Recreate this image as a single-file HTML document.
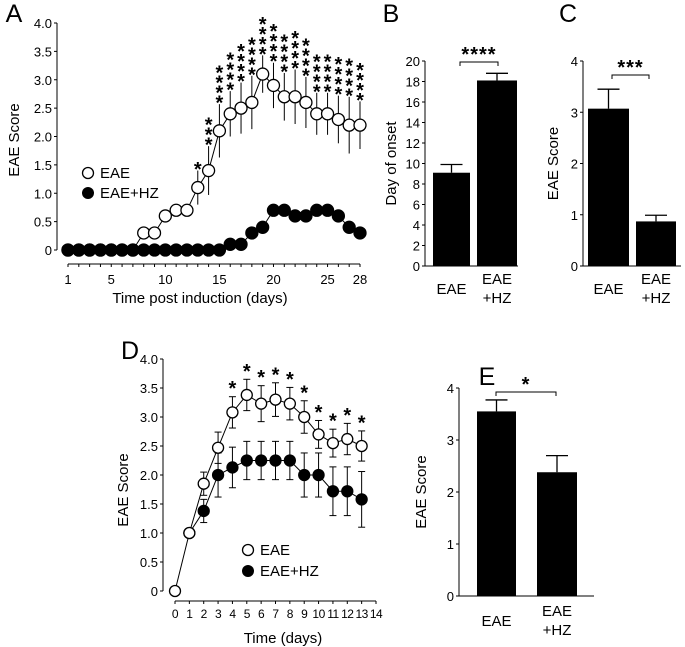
<!DOCTYPE html>
<html><head><meta charset="utf-8"><style>
body{margin:0;background:#fff}
svg{display:block;font-family:"Liberation Sans",Arial,sans-serif}
</style></head><body>
<svg id="fig" width="685" height="647" viewBox="0 0 685 647" xmlns="http://www.w3.org/2000/svg"></svg>
<script>
// ---- Panel A data ----
const daysA = [1,2,3,4,5,6,7,8,9,10,11,12,13,14,15,16,17,18,19,20,21,22,23,24,25,26,27,28];
const eaeA = [0,0,0,0,0,0,0,0.3,0.3,0.6,0.7,0.7,1.1,1.4,2.1,2.4,2.5,2.6,3.1,2.9,2.7,2.7,2.6,2.4,2.4,2.3,2.2,2.2];
const eaeErrA = [0,0,0,0,0,0,0,0.1,0.1,0.08,0.08,0.08,0.3,0.43,0.47,0.4,0.45,0.47,0.33,0.4,0.42,0.48,0.45,0.37,0.37,0.42,0.5,0.42];
const hzA = [0,0,0,0,0,0,0,0,0,0,0,0,0,0,0,0.1,0.1,0.3,0.4,0.7,0.7,0.6,0.6,0.7,0.7,0.6,0.4,0.3];
const hzErrA = [0,0,0,0,0,0,0,0,0,0,0,0,0,0,0,0.08,0.08,0.08,0.08,0.08,0.08,0.08,0.08,0.08,0.08,0.08,0.08,0.08];
const starsA = [0,0,0,0,0,0,0,0,0,0,0,0,1,3,4,4,4,4,4,4,4,4,4,4,4,4,4,4];
const yTicksA = [0,0.5,1,1.5,2,2.5,3,3.5,4];
const yTickLabelsA = ["0","0.5","1.0","1.5","2.0","2.5","3.0","3.5","4.0"];
const xTickLabelsA = [1,5,10,15,20,25,28];
// ---- Panel B data ----
const catsB = ["EAE","EAE+HZ"];
const valsB = [9.1,18.1];
const errB = [0.8,0.7];
const yTicksB = [0,2,4,6,8,10,12,14,16,18,20];
// ---- Panel C data ----
const valsC = [3.07,0.87];
const errC = [0.38,0.12];
const yTicksC = [0,1,2,3,4];
// ---- Panel D data ----
const daysD = [0,1,2,3,4,5,6,7,8,9,10,11,12,13];
const eaeD = [0,1,1.85,2.47,3.08,3.38,3.23,3.3,3.23,3.0,2.7,2.55,2.62,2.5];
const eaeErrD = [0,0,0.2,0.27,0.27,0.27,0.31,0.29,0.28,0.28,0.24,0.24,0.27,0.26];
const hzDdays = [1,2,3,4,5,6,7,8,9,10,11,12,13];
const hzD = [1,1.38,2.0,2.13,2.25,2.25,2.25,2.25,2.0,2.0,1.72,1.72,1.58];
const hzErrD = [0,0.2,0.38,0.35,0.33,0.33,0.33,0.33,0.38,0.38,0.42,0.42,0.48];
const starsD = [0,0,0,0,1,1,1,1,1,1,1,1,1,1];
const yTicksD = [0,0.5,1,1.5,2,2.5,3,3.5,4];
const yTickLabelsD = ["0","0.5","1.0","1.5","2.0","2.5","3.0","3.5","4.0"];
const xTicksD = [0,1,2,3,4,5,6,7,8,9,10,11,12,13,14];
// ---- Panel E data ----
const valsE = [3.55,2.38];
const errE = [0.22,0.32];
const yTicksE = [0,1,2,3,4];

const NS="http://www.w3.org/2000/svg";
const svg=document.getElementById('fig');
function mk(tag,attrs,parent){const e=document.createElementNS(NS,tag);for(const k in attrs)e.setAttribute(k,attrs[k]);(parent||svg).appendChild(e);return e;}
function txt(s,x,y,size,anchor,parent,extra){const t=mk('text',Object.assign({x:x,y:y,'font-size':size,'text-anchor':anchor||'middle',fill:'#000'},extra||{}),parent);t.textContent=s;return t;}
function line(x1,y1,x2,y2,w,parent){return mk('line',{x1:x1,y1:y1,x2:x2,y2:y2,stroke:'#000','stroke-width':w||1},parent);}

// ================= Panel A =================
const gA=mk('g',{});


const xA=d=>68+(d-1)*(292/27);
const yA=v=>250-v*56.75;
txt('A',14,22,25,'middle',gA);
line(57,yA(4),57,yA(0),1,gA);
yTicksA.forEach((v,i)=>{line(54,yA(v),57,yA(v),1,gA);const t=txt(yTickLabelsA[i],52,yA(v)+5,13,'end',gA);});
line(68,264,360,264,1,gA);
daysA.forEach(d=>line(xA(d),264,xA(d),267,1,gA));
xTickLabelsA.forEach(d=>{const t=txt(String(d),xA(d),284,13,'middle',gA);});
const xtA=txt('Time post induction (days)',200,303,15,'middle',gA);
const ytA=txt('EAE Score',19,140,15,'middle',gA,{transform:'rotate(-90 19 140)'});
function drawSeries(g,xs,ys,errs,xf,yf,fill,r,caps,name){
  const path=xs.map((d,i)=>(i?'L':'M')+xf(d)+','+yf(ys[i])).join(' ');
  const pl=mk('path',{d:path,fill:'none',stroke:'#000','stroke-width':1},g);
  
  
  xs.forEach((d,i)=>{
    if(errs[i]>0){
      line(xf(d),yf(ys[i]+errs[i]),xf(d),yf(ys[i]-errs[i]),1,g);
      if(caps){line(xf(d)-3.5,yf(ys[i]+errs[i]),xf(d)+3.5,yf(ys[i]+errs[i]),1,g);line(xf(d)-3.5,yf(ys[i]-errs[i]),xf(d)+3.5,yf(ys[i]-errs[i]),1,g);}
    }
  });
  xs.forEach((d,i)=>{
    const c=mk('circle',{cx:xf(d),cy:yf(ys[i]),r:r,fill:fill,stroke:'#000','stroke-width':1.3},g);
    
    
  });
}
drawSeries(gA,daysA,eaeA,eaeErrA,xA,yA,'#fff',6,false,'eae-a');
drawSeries(gA,daysA,hzA,hzErrA,xA,yA,'#000',6,false,'eae-hz-a');
daysA.forEach((d,i)=>{
  const top=yA(eaeA[i]+eaeErrA[i]);
  for(let k=0;k<starsA[i];k++){
    const s=txt('*',xA(d),top+5.5-k*10,20,'middle',gA,{'font-weight':'bold'});
    
    
  }
});
const lgA=mk('g',{},gA);
mk('circle',{cx:88,cy:173,r:5.5,fill:'#fff',stroke:'#000','stroke-width':1.3},lgA);
txt('EAE',100,178,15,'start',lgA);
mk('circle',{cx:88,cy:193,r:6,fill:'#000'},lgA);
txt('EAE+HZ',100,198,15,'start',lgA);

// ================= bar chart helper =================
function barChart(name,letter,lx,ly,ax,y0,yTop,maxV,ticks,vals,errs,bars,axEnd,bracket,stars,ylabel,ylx,labelY){
  const g=mk('g',{});
  
  
  const yf=v=>y0-(y0-yTop)*v/maxV;
  txt(letter,lx,ly,25,'middle',g);
  line(ax,yf(maxV),ax,y0,1,g);
  ticks.forEach(v=>{line(ax-3,yf(v),ax,yf(v),1,g);const t=txt(String(v),ax-5,yf(v)+5,13,'end',g);});
  line(ax,y0,axEnd,y0,1,g);
  vals.forEach((v,i)=>{
    const [x1,x2]=bars[i];const cx=(x1+x2)/2;
    line(cx,yf(v),cx,yf(v+errs[i]),1.3,g);
    line(cx-11,yf(v+errs[i]),cx+11,yf(v+errs[i]),1.3,g);
    const r=mk('rect',{x:x1,y:yf(v),width:x2-x1,height:y0-yf(v),fill:'#000'},g);
    
    
  });
  const c0=(bars[0][0]+bars[0][1])/2,c1=(bars[1][0]+bars[1][1])/2;
  const t0=txt('EAE',c0,labelY+9,15,'middle',g);
  const t1=txt('EAE',c1,labelY-1,15,'middle',g);
  txt('+HZ',c1,labelY+18,15,'middle',g);
  const br=mk('path',{d:`M${bracket[0]},${bracket[2]+4} V${bracket[2]} H${bracket[1]} V${bracket[2]+4}`,fill:'none',stroke:'#000','stroke-width':1},g);
  
  
  const st=txt(stars,(bracket[0]+bracket[1])/2,bracket[2]-1,20,'middle',g,{'font-weight':'bold','letter-spacing':'1'});
  
  
  const yl=txt(ylabel,ylx,(y0+yf(maxV))/2,15,'middle',g,{transform:`rotate(-90 ${ylx} ${(y0+yf(maxV))/2})`});
  
  
}
barChart('panel-b-bar-chart','B',391,22,425,266,61,20,yTicksB,valsB,errB,[[433,470],[477,517]],518,[460,498,62],'****','Day of onset',396,285);
barChart('panel-c-bar-chart','C',568,22,583,266,61,4,yTicksC,valsC,errC,[[588,629],[636,676]],681,[612,649,75],'***','EAE Score',558,285);
barChart('panel-e-bar-chart','E',487,385,459,596,388,4,yTicksE,valsE,errE,[[477,516],[537,577]],594,[496,556,392],'*','EAE Score',426,617);

// ================= Panel D =================
const gD=mk('g',{});


const xD=d=>175+d*(201/14);
const yD=v=>591-v*58;
txt('D',130,359,25,'middle',gD);
line(163,yD(4),163,yD(0),1,gD);
yTicksD.forEach((v,i)=>{line(160,yD(v),163,yD(v),1,gD);const t=txt(yTickLabelsD[i],158,yD(v)+5,13,'end',gD);});
line(175,601,376,601,1,gD);
xTicksD.forEach(d=>{line(xD(d),601,xD(d),604,1,gD);const t=txt(String(d),xD(d),618,12,'middle',gD,{'letter-spacing':'-0.5'});});
const xtD=txt('Time (days)',283,643,15,'middle',gD);
const ytD=txt('EAE Score',128,490,15,'middle',gD,{transform:'rotate(-90 128 490)'});
drawSeries(gD,hzDdays,hzD,hzErrD,xD,yD,'#000',5.5,true,'eae-hz-d');
drawSeries(gD,daysD,eaeD,eaeErrD,xD,yD,'#fff',5.5,true,'eae-d');
daysD.forEach((d,i)=>{
  if(starsD[i]){
    const s=txt('*',xD(d),yD(eaeD[i]+eaeErrD[i])-1.5,20,'middle',gD,{'font-weight':'bold'});
    
    
  }
});
const lgD=mk('g',{},gD);
mk('circle',{cx:248,cy:550,r:5.5,fill:'#fff',stroke:'#000','stroke-width':1.3},lgD);
txt('EAE',260,555,15,'start',lgD);
mk('circle',{cx:248,cy:571,r:6,fill:'#000'},lgD);
txt('EAE+HZ',260,576,15,'start',lgD);
</script>
</body></html>
